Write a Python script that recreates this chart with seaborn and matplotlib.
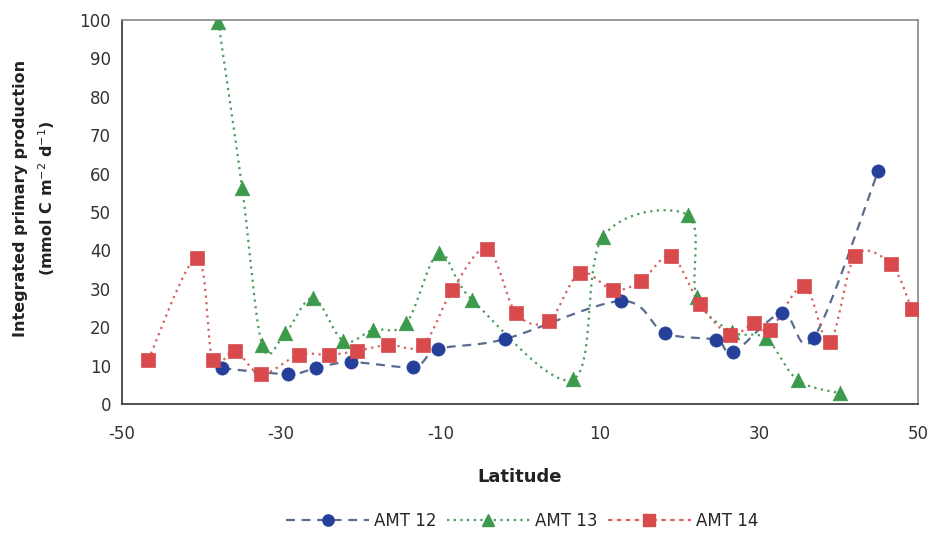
import numpy as np
import pandas as pd
import matplotlib
matplotlib.use("Agg")
import matplotlib.pyplot as plt
from matplotlib.lines import Line2D
import seaborn as sns

# ---- data ----
amt12_lat = [-37.4, -29.1, -25.6, -21.2, -13.4, -10.3, -1.9, 12.7, 18.2, 24.6, 26.8, 32.9, 36.9, 45.0]
amt12_pp = [9.3, 7.8, 9.4, 10.9, 9.7, 14.3, 16.9, 26.8, 18.5, 16.7, 13.5, 23.7, 17.2, 60.7]

amt13_lat = [-37.9, -34.9, -32.4, -29.5, -26.0, -22.2, -18.5, -14.3, -10.2, -6.0, 6.7, 10.4, 21.1, 22.2, 26.6, 30.9, 34.9, 40.2]
amt13_pp = [99.5, 56.2, 15.4, 18.4, 27.6, 16.4, 19.3, 21.0, 39.2, 27.1, 6.4, 43.5, 49.2, 27.9, 18.8, 17.1, 6.2, 2.8]

amt14_lat = [-46.7, -40.6, -38.6, -35.8, -32.5, -27.8, -24.0, -20.5, -16.6, -12.2, -8.5, -4.1, -0.5, 3.6, 7.5,
             11.7, 15.2, 19.0, 22.6, 26.4, 29.4, 31.4, 35.7, 38.9, 42.1, 46.6, 49.2]
amt14_pp = [11.5, 38.0, 11.5, 13.8, 7.8, 12.8, 12.8, 13.8, 15.4, 15.4, 29.7, 40.4, 23.7, 21.6, 34.1,
            29.7, 32.0, 38.5, 26.0, 18.0, 21.1, 19.3, 30.7, 16.2, 38.5, 36.4, 24.7]

series_names = ["AMT 12", "AMT 13", "AMT 14"]
x_ticks = [-50, -30, -10, 10, 30, 50]
y_ticks = list(range(0, 101, 10))


def smooth(x, y, n=24):
    """Excel-style smoothed line (Bezier with Catmull-Rom control points)."""
    pts = np.column_stack([x, y]).astype(float)
    out = []
    for i in range(len(pts) - 1):
        p0 = pts[i - 1] if i > 0 else pts[i]
        p1, p2 = pts[i], pts[i + 1]
        p3 = pts[i + 2] if i + 2 < len(pts) else pts[i + 1]
        c1 = p1 + (p2 - p0) / 6.0
        c2 = p2 - (p3 - p1) / 6.0
        t = np.linspace(0, 1, n)[:, None]
        seg = (1 - t) ** 3 * p1 + 3 * (1 - t) ** 2 * t * c1 + 3 * (1 - t) * t ** 2 * c2 + t ** 3 * p2
        out.append(seg if i == 0 else seg[1:])
    return np.vstack(out)


sns.set_style("white")
plt.rcParams["font.family"] = ["DejaVu Sans"]

fig = plt.figure(figsize=(9.34, 5.33), dpi=100)
ax = fig.add_axes([122 / 934, 1 - 404 / 533, (918 - 122) / 934, (404 - 20) / 533])

blue = "#24409a"
green = "#3c9a4c"
red = "#d84a4c"

styles = [
    dict(color=blue, line_color="#5a6b8f", marker="o", ms=9.5, ls=(0, (4, 3))),
    dict(color=green, line_color="#4f9a5a", marker="^", ms=10.5, ls=(0, (1, 2))),
    dict(color=red, line_color="#d86060", marker="s", ms=9.5, ls=(0, (1, 2))),
]
legend_ls = [(0, (4, 3)), (0, (1, 2)), (0, (2, 2))]
data = [(amt12_lat, amt12_pp), (amt13_lat, amt13_pp), (amt14_lat, amt14_pp)]

handles = []
for name, (lx, ly), st, lls in zip(series_names, data, styles, legend_ls):
    sm = smooth(lx, ly)
    df_line = pd.DataFrame({"lat": sm[:, 0], "pp": sm[:, 1]})
    sns.lineplot(data=df_line, x="lat", y="pp", sort=False, estimator=None, ax=ax,
                 color=st["line_color"], linewidth=1.6, linestyle=st["ls"], zorder=2)
    df_pts = pd.DataFrame({"lat": lx, "pp": ly})
    sns.scatterplot(data=df_pts, x="lat", y="pp", ax=ax, marker=st["marker"],
                    color=st["color"], s=st["ms"] ** 2, edgecolor=st["color"], linewidth=0.5, zorder=3)
    handles.append(Line2D([0], [0], color=st["line_color"], linestyle=lls, linewidth=1.6,
                          marker=st["marker"], markersize=st["ms"] * 0.85, markerfacecolor=st["color"],
                          markeredgecolor=st["color"], label=name))

ax.set_xlim(-50, 50)
ax.set_ylim(0, 100)
ax.set_xticks(x_ticks)
ax.set_yticks(y_ticks)
ax.set_xticklabels([str(v) for v in x_ticks])
ax.set_yticklabels([str(v) for v in y_ticks])
ax.tick_params(axis="both", direction="out", length=4, width=1, colors="#333333",
               labelsize=12, labelcolor="#333333")
ax.tick_params(axis="y", pad=4)
ax.tick_params(axis="x", pad=11)

for side in ["left", "bottom"]:
    ax.spines[side].set_color("#333333")
    ax.spines[side].set_linewidth(1.2)
for side in ["top", "right"]:
    ax.spines[side].set_color("#888888")
    ax.spines[side].set_linewidth(1.2)

ax.set_xlabel("Latitude", fontsize=13, fontweight="bold", labelpad=18, color="#222222")
ax.set_ylabel("Integrated primary production\n(mmol C m$^{-2}$ d$^{-1}$)", fontsize=11.5,
              fontweight="bold", color="#222222", linespacing=1.5)
ax.yaxis.set_label_coords(-0.082, 0.536)

fig.legend(handles=handles, loc="center", bbox_to_anchor=(0.559, 1 - 521 / 533), ncol=3,
           frameon=False, fontsize=12, handlelength=5.0, columnspacing=0.6, handletextpad=0.3)

fig.savefig("out.png", dpi=100)
